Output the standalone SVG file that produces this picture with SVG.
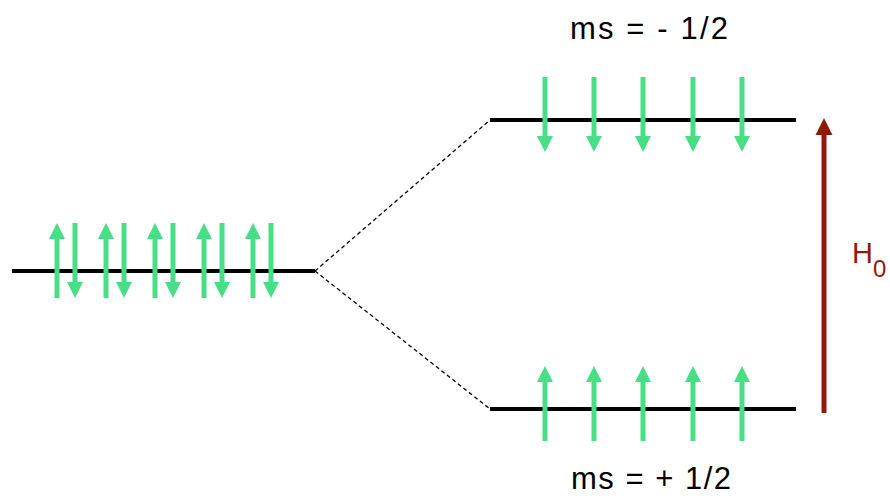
<svg xmlns="http://www.w3.org/2000/svg" xmlns:xlink="http://www.w3.org/1999/xlink" width="890" height="496" viewBox="0 0 890 496">
<style>
.level{stroke:#000;stroke-width:4;fill:none}
.spin{fill:#48de85}
.dash{stroke:#000;stroke-width:1.3;stroke-dasharray:4 3;fill:none}
.lbl{font-family:"Liberation Sans",Arial,sans-serif;font-size:31px;fill:#000}
.field{fill:#8e1a0c}
.h{font-family:"Liberation Sans",Arial,sans-serif;fill:#8e1a0c}
</style>
<defs>
<path id="up" d="M0,0 L8,16 L2.5,16 L2.5,75 L-2.5,75 L-2.5,16 L-8,16 Z"/>
<path id="down" d="M0,75 L8,59 L2.5,59 L2.5,0 L-2.5,0 L-2.5,59 L-8,59 Z"/>
</defs>
<rect width="890" height="496" fill="#fff"/>
<g id="connectors">
<line class="dash" x1="315" y1="271" x2="490" y2="120"/>
<line class="dash" x1="315" y1="271" x2="490" y2="409"/>
</g>
<g id="degenerate-level">
<line class="level" x1="12" y1="271" x2="315" y2="271"/>
<g class="spin">
<use xlink:href="#up" x="57" y="223"/><use xlink:href="#down" x="75" y="223"/>
<use xlink:href="#up" x="106" y="223"/><use xlink:href="#down" x="124" y="223"/>
<use xlink:href="#up" x="155" y="223"/><use xlink:href="#down" x="173" y="223"/>
<use xlink:href="#up" x="204" y="223"/><use xlink:href="#down" x="222" y="223"/>
<use xlink:href="#up" x="253" y="223"/><use xlink:href="#down" x="271" y="223"/>
</g>
</g>
<g id="upper-level">
<line class="level" x1="490" y1="120" x2="796" y2="120"/>
<g class="spin">
<use xlink:href="#down" x="545" y="77"/>
<use xlink:href="#down" x="594" y="77"/>
<use xlink:href="#down" x="643" y="77"/>
<use xlink:href="#down" x="693" y="77"/>
<use xlink:href="#down" x="742" y="77"/>
</g>
<text class="lbl" x="570" y="39" textLength="158" lengthAdjust="spacing">ms = - 1/2</text>
</g>
<g id="lower-level">
<line class="level" x1="490" y1="409" x2="796" y2="409"/>
<g class="spin">
<use xlink:href="#up" x="545" y="366"/>
<use xlink:href="#up" x="594" y="366"/>
<use xlink:href="#up" x="643" y="366"/>
<use xlink:href="#up" x="693" y="366"/>
<use xlink:href="#up" x="742" y="366"/>
</g>
<text class="lbl" x="571" y="489" textLength="160" lengthAdjust="spacing">ms = + 1/2</text>
</g>
<g id="field">
<path class="field" d="M824,118 L832.5,135 L826.5,135 L826.5,413 L821.5,413 L821.5,135 L815.5,135 Z"/>
<text class="h" x="852" y="263" font-size="29">H</text>
<text class="h" x="873" y="277" font-size="24">0</text>
</g>
</svg>
